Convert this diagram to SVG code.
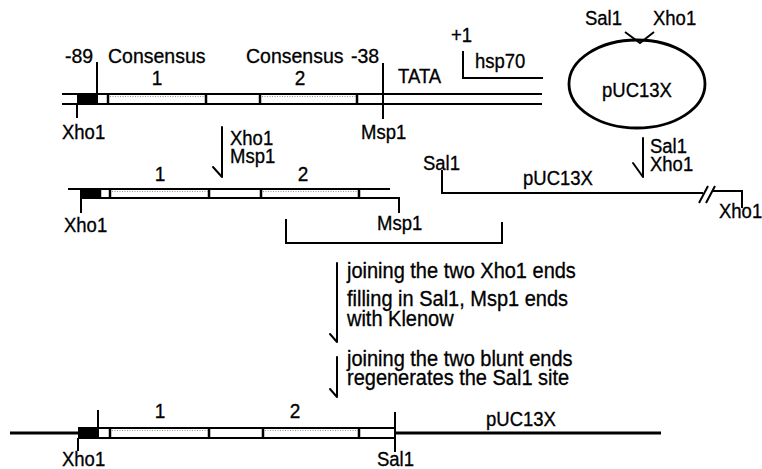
<svg xmlns="http://www.w3.org/2000/svg" width="762" height="469" viewBox="0 0 762 469">
  <style>
    text { font-family: "Liberation Sans", Arial, sans-serif; fill: #000; stroke: #000; stroke-width: 0.3; }
    .lbl { font-size: 18.5px; }
    .big { font-size: 19.5px; }
    .step { font-size: 20px; }
    .num { font-size: 19px; text-anchor: middle; }
    .ln { stroke: #000; stroke-width: 2; fill: none; }
    .thick { stroke: #000; stroke-width: 3; fill: none; }
    .sep { stroke: #000; stroke-width: 2.5; }
    .blk { fill: #000; }
    .dots { stroke: #999; stroke-width: 1; stroke-dasharray: 1 1.5; fill: none; }
    .arrow { stroke: #000; stroke-width: 2; fill: none; stroke-linecap: round; }
  </style>

  <!-- starting promoter fragment: -89 .. -38 with TATA and hsp70 start -->
  <g id="promoter">
    <path class="ln" d="M62 94 H542 M62 104 H542"/>
    <rect class="blk" x="77" y="94" width="20" height="10"/>
    <path class="sep" d="M108 94 V104 M206 94 V104 M260 94 V104 M357 94 V104"/>
    <path class="dots" d="M110 96.5 H205 M262 96.5 H356"/>
    <path class="ln" d="M97 62 V104 M77 104 V118 M383 63 V119"/>
    <path class="ln" d="M463 51 V78 H543"/>
    <text class="big" transform="translate(65 63) scale(1 1.08)">-89</text>
    <text class="big" transform="translate(108 63) scale(1 1.08)">Consensus</text>
    <text class="big" transform="translate(246 63) scale(1 1.08)">Consensus</text>
    <text class="big" transform="translate(351 63) scale(1 1.08)">-38</text>
    <text class="num" transform="translate(157 85) scale(1 1.08)">1</text>
    <text class="num" transform="translate(300 85) scale(1 1.08)">2</text>
    <text class="lbl" transform="translate(398 83) scale(1 1.08)">TATA</text>
    <text class="lbl" transform="translate(451 42) scale(1 1.08)">+1</text>
    <text class="lbl" transform="translate(475 68) scale(1 1.08)">hsp70</text>
    <text class="lbl" transform="translate(62 139) scale(1 1.08)">Xho1</text>
    <text class="lbl" transform="translate(361 139) scale(1 1.08)">Msp1</text>
  </g>

  <!-- circular vector -->
  <g id="plasmid">
    <ellipse cx="637" cy="84" rx="68" ry="44" fill="none" stroke="#000" stroke-width="2.8"/>
    <path class="ln" d="M625 32 L640 43 L654 32"/>
    <text class="lbl" transform="translate(585 25) scale(1 1.08)">Sal1</text>
    <text class="lbl" transform="translate(653 25) scale(1 1.08)">Xho1</text>
    <text class="lbl" text-anchor="middle" transform="translate(637 97) scale(1 1.08)">pUC13X</text>
  </g>

  <!-- cut promoter fragment with Xho1 / Msp1 overhangs -->
  <g id="fragment">
    <path class="ln" d="M68 189 H390 M80 198 H399 V213"/>
    <rect class="blk" x="80" y="189" width="20" height="9"/>
    <path class="sep" d="M100 189 V198 M110 189 V198 M209 189 V198 M261 189 V198 M359 189 V198"/>
    <path class="dots" d="M112 191.5 H208 M263 191.5 H358"/>
    <path class="ln" d="M81 198 V213"/>
    <text class="num" transform="translate(160 181) scale(1 1.08)">1</text>
    <text class="num" transform="translate(303 181) scale(1 1.08)">2</text>
    <text class="lbl" transform="translate(64 232) scale(1 1.08)">Xho1</text>
    <text class="lbl" transform="translate(377 230) scale(1 1.08)">Msp1</text>
    <path class="ln" d="M286 219 V243 H502 V222"/>
  </g>

  <!-- linearised vector -->
  <g id="vector">
    <path class="ln" d="M442 170 V193 H703 M713 191 H742 V208"/>
    <path class="ln" d="M699 203 L708 186 M706 203 L715 186"/>
    <text class="lbl" transform="translate(423 170) scale(1 1.08)">Sal1</text>
    <text class="lbl" transform="translate(523 185) scale(1 1.08)">pUC13X</text>
    <text class="lbl" transform="translate(719 218) scale(1 1.08)">Xho1</text>
  </g>

  <!-- final construct -->
  <g id="construct">
    <path class="thick" d="M10 433 H78 M395 433 H661"/>
    <path class="ln" d="M78 428 H395 M78 438 H395"/>
    <rect class="blk" x="78" y="428" width="20" height="10"/>
    <path class="sep" d="M110 428 V438 M209 428 V438 M263 428 V438 M359 428 V438"/>
    <path class="dots" d="M112 430.5 H208 M265 430.5 H358"/>
    <path class="ln" d="M98 410 V438 M78 438 V451 M395 412 V452"/>
    <text class="num" transform="translate(160 418) scale(1 1.08)">1</text>
    <text class="num" transform="translate(295 418) scale(1 1.08)">2</text>
    <text class="lbl" transform="translate(486 426) scale(1 1.08)">pUC13X</text>
    <text class="lbl" transform="translate(62 466) scale(1 1.08)">Xho1</text>
    <text class="lbl" transform="translate(377 466) scale(1 1.08)">Sal1</text>
  </g>

  <!-- process arrows -->
  <g id="connectors">
    <path class="arrow" d="M222 127 V177 M213 167 L222 177"/>
    <path class="arrow" d="M643 138 V177 M633 163 L643 177"/>
    <path class="arrow" d="M337 263 V342 M330 334 L337 342"/>
    <path class="arrow" d="M337 357 V397 M330 389 L337 397"/>
  </g>

  <g id="notes">
    <text class="lbl" transform="translate(230 145) scale(1 1.08)">Xho1</text>
    <text class="lbl" transform="translate(230 163) scale(1 1.08)">Msp1</text>
    <text class="lbl" transform="translate(650 153) scale(1 1.08)">Sal1</text>
    <text class="lbl" transform="translate(650 171) scale(1 1.08)">Xho1</text>
    <text class="step" transform="translate(347 278) scale(1 1.08)">joining the two Xho1 ends</text>
    <text class="step" transform="translate(347 306) scale(1 1.08)">filling in Sal1, Msp1 ends</text>
    <text class="step" transform="translate(347 326) scale(1 1.08)">with Klenow</text>
    <text class="step" transform="translate(347 366) scale(1 1.08)">joining the two blunt ends</text>
    <text class="step" transform="translate(347 385) scale(1 1.08)">regenerates the Sal1 site</text>
  </g>
</svg>
